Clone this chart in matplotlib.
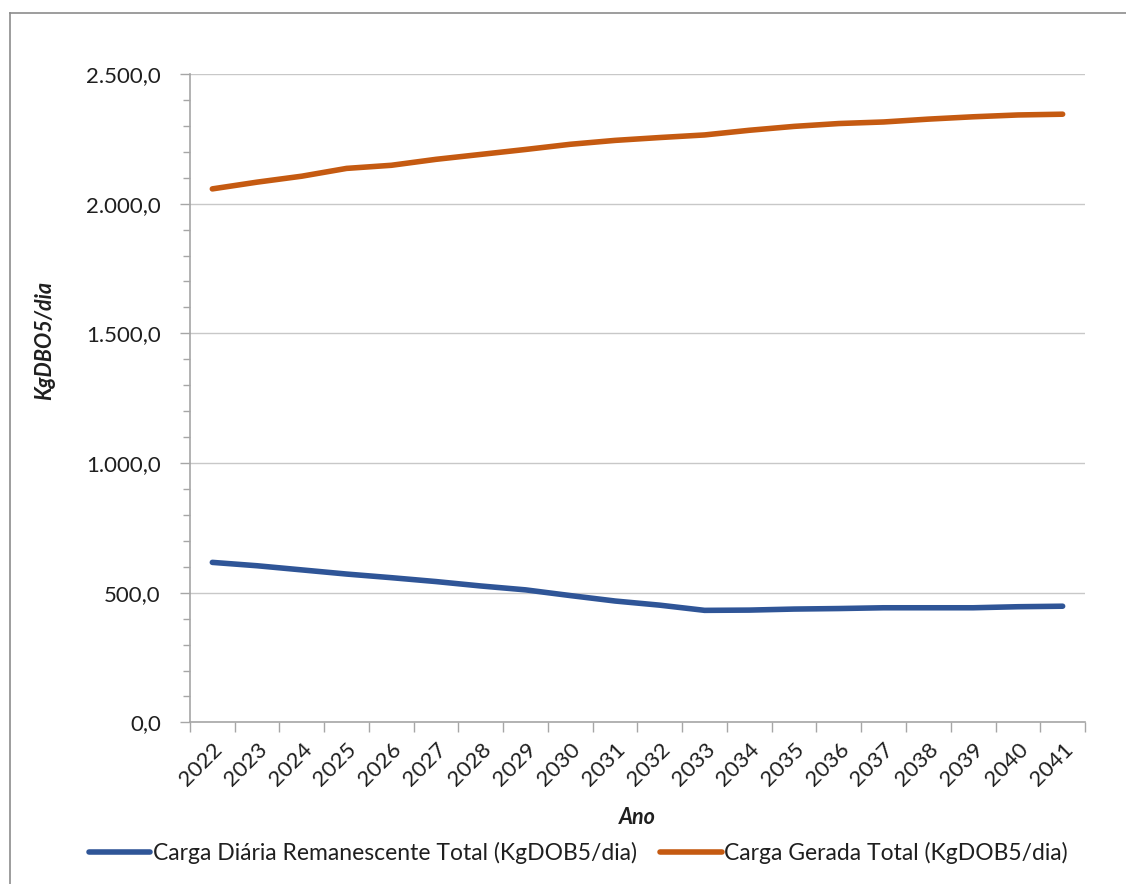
import matplotlib.pyplot as plt
import numpy as np
from matplotlib.ticker import FixedLocator, MultipleLocator, FuncFormatter

plt.rcParams['font.family'] = ['Lato', 'DejaVu Sans']

# Anos da projeção
anos = list(range(2022, 2042))

# Carga Diária Remanescente Total (KgDOB5/dia)
carga_remanescente = [617, 604, 588, 572, 558, 543, 526, 511, 489, 468,
                      452, 432, 433, 437, 439, 442, 442, 442, 446, 448]

# Carga Gerada Total (KgDOB5/dia)
carga_gerada = [2057, 2083, 2106, 2136, 2148, 2171, 2190, 2209, 2229, 2244,
                2255, 2265, 2283, 2298, 2309, 2315, 2326, 2335, 2342, 2345]

cor_azul = '#2F5597'
cor_laranja = '#C55A11'
cor_eixo = '#A6A6A6'
cor_texto = '#1f1f1f'

fig = plt.figure(figsize=(11.26, 8.84), dpi=100)
ax = fig.add_axes([0.1687, 0.1828, 0.7949, 0.7335])

x = np.arange(len(anos)) + 0.5
ax.plot(x, carga_remanescente, color=cor_azul, lw=4, solid_capstyle='round',
        label='Carga Diária Remanescente Total (KgDOB5/dia)')
ax.plot(x, carga_gerada, color=cor_laranja, lw=4, solid_capstyle='round',
        label='Carga Gerada Total (KgDOB5/dia)')

ax.set_xlim(0, len(anos))
ax.set_ylim(0, 2500)

# eixo y
ax.yaxis.set_major_locator(MultipleLocator(500))
ax.yaxis.set_minor_locator(MultipleLocator(100))
ax.yaxis.set_major_formatter(FuncFormatter(
    lambda v, p: f'{v:,.1f}'.replace(',', 'X').replace('.', ',').replace('X', '.')))
ax.tick_params(axis='y', which='both', direction='out', color=cor_eixo, labelsize=16,
               labelcolor=cor_texto, pad=14)
ax.tick_params(axis='y', which='major', length=7, width=1)
ax.tick_params(axis='y', which='minor', length=5, width=1)
ax.grid(axis='y', which='major', color='#C8C8C8', lw=1)
ax.set_axisbelow(True)

# eixo x: marcas nos limites das categorias, rótulos no centro
ax.xaxis.set_major_locator(FixedLocator(np.arange(len(anos) + 1)))
ax.xaxis.set_minor_locator(FixedLocator(x))
ax.set_xticklabels([], minor=False)
ax.set_xticklabels([str(a) for a in anos], minor=True, rotation=45,
                   ha='right', va='top', rotation_mode='anchor')
ax.tick_params(axis='x', which='major', direction='out', length=7, width=1, color=cor_eixo)
ax.tick_params(axis='x', which='minor', length=0, labelsize=16, labelcolor=cor_texto, pad=12)

for lado in ['top', 'right']:
    ax.spines[lado].set_visible(False)
for lado in ['left', 'bottom']:
    ax.spines[lado].set_color(cor_eixo)
    ax.spines[lado].set_linewidth(1.2)

fig.text(45 / 1126, 1 - 340 / 884, 'KgDBO5/dia', rotation=90, ha='center', va='center',
         fontsize=15.5, fontweight='bold', fontstyle='italic', color=cor_texto)
fig.text(637 / 1126, 1 - 818 / 884, 'Ano', ha='center', va='center',
         fontsize=15.5, fontweight='bold', fontstyle='italic', color=cor_texto)

fig.legend(loc='center', bbox_to_anchor=(578 / 1126, 1 - 853 / 884), ncol=2, frameon=False,
           fontsize=16.5, handlelength=2.7, handletextpad=0.1, columnspacing=1.0,
           labelcolor=cor_texto)

# moldura do gráfico
fig.add_artist(plt.Line2D([10 / 1126, 10 / 1126], [0, 1 - 13 / 884], color='#8c8c8c', lw=1.2))
fig.add_artist(plt.Line2D([10 / 1126, 1], [1 - 13 / 884, 1 - 13 / 884], color='#8c8c8c', lw=1.2))

plt.savefig('out.png', dpi=100)
